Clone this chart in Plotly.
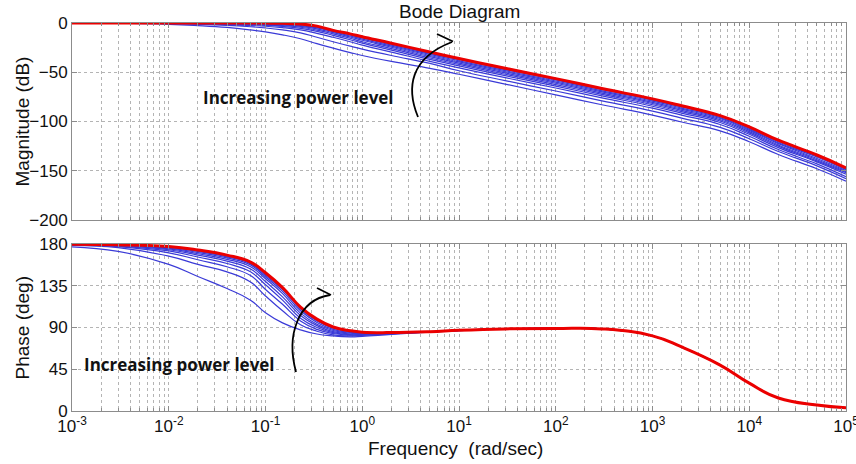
import plotly.graph_objects as go

# ---------------- data ----------------
freq = [0.001, 0.003, 0.01, 0.02, 0.04, 0.07, 0.1, 0.15, 0.23, 0.34, 0.5, 0.75, 1,
        2, 5, 10, 30, 100, 300, 1000, 2000, 5000, 10000, 20000, 50000, 100000]

# magnitude (dB): blue curves B1 (lowest power) .. B9, then red (highest power)
mag_b1 = [-0.1, -0.4, -1.3, -2.6, -4.5, -7, -9, -12, -16, -21, -25.5, -30, -33,
          -39, -46, -52, -62, -73, -83, -93.5, -100.5, -109.5, -120.5, -133.5, -148, -160.5]
mag_b2 = [0, -0.2, -0.6, -1.3, -2.4, -3.8, -5, -7, -10, -14.5, -19, -23.5, -26.5,
          -33, -41, -48.5, -58.5, -69, -79, -89.5, -96.5, -106, -117.5, -130.5, -145, -158]
mag_b3 = [0, -0.1, -0.4, -0.9, -1.7, -2.6, -3.3, -4.7, -7, -10.5, -14.5, -19, -22.5,
          -29.5, -39, -45.5, -55.5, -66, -76, -86.5, -93.5, -103, -115, -128.5, -143, -156]
mag_b4 = [0, -0.1, -0.3, -0.7, -1.2, -1.9, -2.4, -3.5, -5.5, -8.5, -12.5, -17, -20.5,
          -27.5, -37, -43.5, -53.5, -64, -74, -84.5, -91.5, -101, -113, -126.5, -141, -153.5]
mag_b5 = [0, 0, -0.2, -0.5, -0.9, -1.4, -1.8, -2.7, -4.3, -7.2, -11, -15.5, -19,
          -26, -35.5, -42, -52, -62.5, -72.5, -83, -90, -99.5, -111.5, -125, -140, -152]
mag_b6 = [0, 0, -0.1, -0.3, -0.6, -1, -1.3, -2, -3.4, -6, -9.8, -14.2, -17.5,
          -24.6, -34.2, -40.7, -50.7, -61.2, -71.2, -81.7, -88.7, -98.2, -110.3, -123.8, -138.8, -151]
mag_b7 = [0, 0, -0.1, -0.2, -0.4, -0.6, -0.9, -1.4, -2.6, -5, -8.8, -13.2, -16.3,
          -23.5, -33, -39.5, -49.5, -60, -70, -80.5, -87.5, -97, -109, -122.5, -137.5, -150]
mag_b8 = [0, 0, 0, -0.1, -0.2, -0.4, -0.6, -0.9, -1.9, -4.2, -7.9, -12.2, -15.2,
          -22.5, -31.9, -38.4, -48.4, -58.9, -68.9, -79.4, -86.4, -96, -108, -121.5, -136, -149]
mag_b9 = [0, 0, 0, 0, -0.1, -0.2, -0.3, -0.5, -1.3, -3.6, -7.3, -11.6, -14.6,
          -21.5, -30.8, -37.3, -47.3, -57.8, -67.8, -78.3, -85.3, -94.8, -107, -120.5, -135, -148]
mag_red = [0, 0, 0, 0, 0, 0, -0.1, -0.3, -1, -3.2, -7.5, -11, -14,
           -20.5, -29.5, -36, -46, -56.5, -66.5, -77, -84, -94, -105.5, -119, -134, -147]

# phase (deg)
ph_b1 = [177, 172, 158, 145, 132, 119.5, 106, 95, 87.5, 83, 81, 80, 80.5,
         82.5, 85, 86.5, 88.5, 89, 88.5, 81, 69, 49.5, 30, 14, 6.5, 3.5]
ph_b2 = [178.5, 176, 167, 158, 150, 139, 124, 108, 93, 86, 82, 81, 81.5,
         83, 85.2, 86.7, 88.5, 89, 88.5, 81, 69, 49.5, 30, 14, 6.5, 3.5]
ph_b3 = [179, 177.2, 170.5, 163, 155.5, 146, 131, 115, 97, 88, 83.5, 81.7, 82,
         83.3, 85.3, 86.8, 88.5, 89, 88.5, 81, 69, 49.5, 30, 14, 6.5, 3.5]
ph_b4 = [179.3, 177.8, 172.5, 166, 159, 150, 136, 119.5, 100, 90, 84.5, 82.3, 82.5,
         83.5, 85.3, 86.8, 88.5, 89, 88.5, 81, 69, 49.5, 30, 14, 6.5, 3.5]
ph_b5 = [179.5, 178.2, 173.8, 168, 161.5, 153, 139.5, 123, 103, 92, 85.5, 83, 83,
         83.7, 85.4, 86.9, 88.5, 89, 88.5, 81, 69, 49.5, 30, 14, 6.5, 3.5]
ph_b6 = [179.6, 178.5, 174.8, 169.5, 163.5, 155.5, 142.5, 126.5, 105.5, 93.5, 86.8, 83.8, 83.6,
         83.9, 85.4, 86.9, 88.5, 89, 88.5, 81, 69, 49.5, 30, 14, 6.5, 3.5]
ph_b7 = [179.6, 178.7, 175.6, 170.8, 165, 157.5, 144.5, 129, 108, 95.5, 88, 84.7, 84.1,
         84.1, 85.4, 87, 88.5, 89, 88.5, 81, 69, 49.5, 30, 14, 6.5, 3.5]
ph_b8 = [179.7, 178.9, 176.3, 172, 166.2, 158.8, 146, 131, 110, 97, 89.2, 85.5, 84.5,
         84.3, 85.5, 87, 88.5, 89, 88.5, 81, 69, 49.5, 30, 14, 6.5, 3.5]
ph_b9 = [179.7, 179, 176.8, 172.8, 167, 159.5, 147.3, 132.3, 111.2, 98.2, 90, 86.1, 84.8,
         84.4, 85.5, 87, 88.5, 89, 88.5, 81, 69, 49.5, 30, 14, 6.5, 3.5]
ph_red = [179.8, 179.2, 177.2, 173.5, 168, 160.5, 149, 133, 112, 99, 90.5, 86.5, 85,
          84.5, 85.5, 87, 88.5, 89, 88.5, 81, 69, 49.5, 30, 14, 6.5, 3.5]

x_tick_vals = [1e-3, 1e-2, 1e-1, 1, 10, 100, 1000, 1e4, 1e5]
x_tick_text = ["10<sup>-3</sup>", "10<sup>-2</sup>", "10<sup>-1</sup>", "10<sup>0</sup>",
               "10<sup>1</sup>", "10<sup>2</sup>", "10<sup>3</sup>", "10<sup>4</sup>", "10<sup>5</sup>"]
mag_ticks = [0, -50, -100, -150, -200]
phase_ticks = [0, 45, 90, 135, 180]

blue_mag = [mag_b1, mag_b2, mag_b3, mag_b4, mag_b5, mag_b6, mag_b7, mag_b8, mag_b9]
blue_ph = [ph_b1, ph_b2, ph_b3, ph_b4, ph_b5, ph_b6, ph_b7, ph_b8, ph_b9]

# ---------------- figure ----------------
W, H = 856, 464
L, R, T, B = 72, 10, 23, 53
PLOT_H = H - T - B


def px(x):
    return (x - L) / (W - L - R)


def py(y):
    return (H - B - y) / PLOT_H


fig = go.Figure()
BLUE = "rgb(58,58,215)"
RED = "rgb(235,0,0)"
SM = 1.3

for m in blue_mag:
    fig.add_trace(go.Scatter(x=freq, y=m, mode="lines", xaxis="x", yaxis="y",
                             line=dict(color=BLUE, width=1.2, shape="spline", smoothing=SM),
                             showlegend=False, hoverinfo="skip"))
fig.add_trace(go.Scatter(x=freq, y=mag_red, mode="lines", xaxis="x", yaxis="y",
                         line=dict(color=RED, width=3, shape="spline", smoothing=SM),
                         showlegend=False, hoverinfo="skip"))
for p in blue_ph:
    fig.add_trace(go.Scatter(x=freq, y=p, mode="lines", xaxis="x2", yaxis="y2",
                             line=dict(color=BLUE, width=1.2, shape="spline", smoothing=SM),
                             showlegend=False, hoverinfo="skip"))
fig.add_trace(go.Scatter(x=freq, y=ph_red, mode="lines", xaxis="x2", yaxis="y2",
                         line=dict(color=RED, width=3, shape="spline", smoothing=SM),
                         showlegend=False, hoverinfo="skip"))

minor_vals = [m * 10 ** k for k in range(-3, 5) for m in range(2, 10)]
GRID = "#b4b4b4"
tick_font = dict(family="Liberation Sans, Arial, sans-serif", size=17, color="#111")

xcommon = dict(type="log", range=[-3, 5], tickvals=x_tick_vals, ticktext=x_tick_text,
               showgrid=True, gridcolor=GRID, griddash="dot", gridwidth=1,
               showline=True, linecolor="#8c8c8c", linewidth=1, mirror="ticks",
               ticks="inside", ticklen=5, tickcolor="#8c8c8c", zeroline=False,
               tickfont=tick_font, ticklabeloverflow="allow", automargin=False,
               minor=dict(tickvals=minor_vals, ticks="inside", ticklen=3, tickcolor="#8c8c8c",
                          showgrid=True, gridcolor=GRID, griddash="dot", gridwidth=1))
ycommon = dict(showgrid=True, gridcolor=GRID, griddash="dot", gridwidth=1,
               showline=True, linecolor="#8c8c8c", linewidth=1, mirror="ticks",
               ticks="inside", ticklen=5, tickcolor="#8c8c8c", zeroline=False,
               tickfont=tick_font, automargin=False)

top_lo = py(220)
bot_hi = py(244)

fig.update_layout(
    width=W, height=H,
    margin=dict(l=L, r=R, t=T, b=B, autoexpand=False),
    paper_bgcolor="white", plot_bgcolor="white",
    xaxis=dict(domain=[0, 1], anchor="y", showticklabels=False, **xcommon),
    yaxis=dict(domain=[top_lo, 1], anchor="x", range=[-200, 0], tickvals=mag_ticks, **ycommon),
    xaxis2=dict(domain=[0, 1], anchor="y2", **xcommon),
    yaxis2=dict(domain=[0, bot_hi], anchor="x2", range=[0, 180], tickvals=phase_ticks, **ycommon),
)

label_font = dict(family="Liberation Sans, Arial, sans-serif", size=19, color="#111")
note_font = dict(family="Open Sans, sans-serif", size=17, color="#111")

annos = [
    dict(text="Bode Diagram", x=px(459), y=py(11), font=label_font),
    dict(text="Frequency  (rad/sec)", x=px(455), y=py(448), font=label_font),
    dict(text="Magnitude (dB)", x=px(22), y=py(121.5), textangle=-90, font=label_font),
    dict(text="Phase (deg)", x=px(22), y=py(327.5), textangle=-90, font=label_font),
    dict(text="<b>Increasing power level</b>", x=px(298), y=py(97), font=note_font),
    dict(text="<b>Increasing power level</b>", x=px(179), y=py(364), font=note_font),
]
for a in annos:
    fig.add_annotation(xref="paper", yref="paper", showarrow=False,
                       xanchor="center", yanchor="middle", **a)


def path(points_cmds):
    out = []
    for cmd, pts in points_cmds:
        out.append(cmd + " " + " ".join(f"{px(x):.5f},{py(y):.5f}" for x, y in pts))
    return " ".join(out)


arrow_line = dict(color="black", width=1.8)
# top curved arrow
fig.add_shape(type="path", xref="paper", yref="paper", line=arrow_line,
              path=path([("M", [(418, 117)]), ("C", [(406, 88), (410, 58), (452, 42)])]))
fig.add_shape(type="path", xref="paper", yref="paper", line=arrow_line,
              path=path([("M", [(437, 34)]), ("L", [(453, 41.5), (440, 50)])]))
# bottom curved arrow
fig.add_shape(type="path", xref="paper", yref="paper", line=arrow_line,
              path=path([("M", [(296, 372)]), ("C", [(286, 335), (298, 300), (330, 295)])]))
fig.add_shape(type="path", xref="paper", yref="paper", line=arrow_line,
              path=path([("M", [(317, 288)]), ("L", [(331, 295), (321, 305)])]))

fig.write_html("out.html")
